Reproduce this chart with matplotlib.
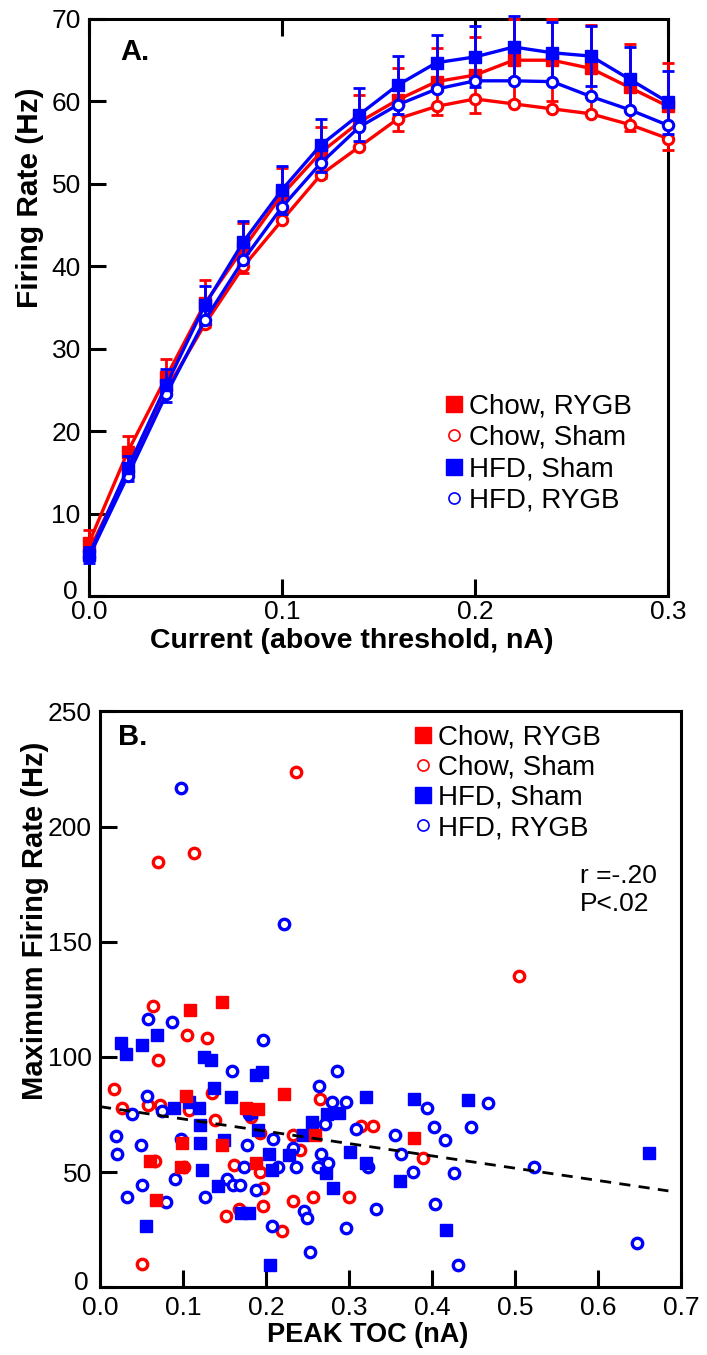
import numpy as np
import matplotlib
matplotlib.use("Agg")
import matplotlib.pyplot as plt
from matplotlib.lines import Line2D
from matplotlib.transforms import ScaledTranslation

plt.rcParams['font.family'] = ['Liberation Sans', 'DejaVu Sans']

RED = '#ff0000'
BLUE = '#0000ff'

# ---- panel A: firing rate vs current step ----
current = [0.00, 0.02, 0.04, 0.06, 0.08, 0.10, 0.12, 0.14,
           0.16, 0.18, 0.20, 0.22, 0.24, 0.26, 0.28, 0.30]
chow_rygb_rate = [6.5, 17.5, 26.6, 35.5, 42.2, 48.7, 53.8, 57.5,
                  60.2, 62.4, 63.2, 65.0, 65.0, 64.0, 61.7, 59.4]
chow_rygb_err = [1.5, 1.9, 2.2, 2.8, 3.0, 3.2, 3.1, 3.3,
                 3.8, 4.1, 4.6, 5.0, 5.0, 5.3, 5.3, 5.3]
chow_sham_rate = [5.5, 15.2, 25.0, 33.0, 40.0, 45.6, 51.1, 54.5,
                  57.9, 59.4, 60.3, 59.7, 59.1, 58.5, 57.2, 55.5]
hfd_sham_rate = [5.0, 15.5, 25.6, 35.3, 43.0, 49.3, 54.7, 58.4,
                 62.0, 64.7, 65.4, 66.6, 65.9, 65.5, 62.7, 59.9]
hfd_sham_err = [1.0, 1.5, 2.0, 2.3, 2.5, 2.9, 3.2, 3.2,
                3.5, 3.4, 3.7, 3.8, 3.7, 3.6, 3.9, 3.8]
hfd_rygb_rate = [4.8, 14.6, 24.5, 33.5, 40.8, 47.2, 52.5, 56.9,
                 59.6, 61.5, 62.5, 62.5, 62.4, 60.6, 59.0, 57.1]

# ---- panel B: max firing rate vs peak TOC ----
chow_rygb_toc = [0.109, 0.147, 0.104, 0.222, 0.176, 0.190, 0.099, 0.147,
                 0.060, 0.097, 0.188, 0.068, 0.259, 0.378]
chow_rygb_max = [120.2, 123.8, 83.0, 83.7, 77.7, 77.5, 62.5, 61.8,
                 54.6, 52.4, 53.9, 38.0, 66.1, 65.0]

chow_sham_toc = [0.236, 0.0695, 0.113, 0.505, 0.064, 0.105, 0.129, 0.070,
                 0.017, 0.026, 0.058, 0.072, 0.107, 0.135, 0.139, 0.182,
                 0.193, 0.233, 0.265, 0.315, 0.329, 0.066, 0.101, 0.162,
                 0.193, 0.196, 0.241, 0.233, 0.257, 0.300, 0.168, 0.152,
                 0.196, 0.219, 0.050, 0.389]
chow_sham_max = [223.7, 184.6, 188.6, 135.0, 121.9, 109.4, 108.4, 98.8,
                 85.9, 78.0, 79.1, 79.1, 77.0, 84.4, 72.6, 73.8,
                 67.1, 66.1, 81.7, 70.0, 70.0, 55.0, 52.4, 52.9,
                 49.9, 43.1, 59.4, 37.6, 39.2, 39.2, 34.1, 31.1,
                 35.2, 24.6, 9.9, 56.3]

hfd_sham_toc = [0.025, 0.031, 0.050, 0.069, 0.125, 0.134, 0.188, 0.195,
                0.137, 0.158, 0.089, 0.107, 0.119, 0.121, 0.182, 0.256,
                0.273, 0.288, 0.321, 0.378, 0.121, 0.149, 0.190, 0.245,
                0.204, 0.207, 0.228, 0.301, 0.321, 0.272, 0.123, 0.142,
                0.281, 0.362, 0.180, 0.170, 0.055, 0.205, 0.443, 0.662,
                0.417]
hfd_sham_max = [106.0, 101.4, 105.3, 109.4, 100.0, 98.6, 92.1, 93.5,
                86.3, 82.7, 77.7, 80.5, 77.7, 70.5, 76.2, 71.9,
                75.2, 75.5, 82.7, 81.6, 62.8, 64.0, 68.3, 66.1,
                57.9, 51.0, 57.5, 58.9, 53.9, 49.6, 50.7, 43.8,
                43.1, 46.0, 32.3, 32.3, 26.5, 9.5, 81.2, 58.3,
                25.0]

hfd_rygb_toc = [0.097, 0.222, 0.058, 0.087, 0.197, 0.159, 0.286, 0.264,
                0.057, 0.038, 0.075, 0.280, 0.296, 0.271, 0.308, 0.019,
                0.021, 0.049, 0.098, 0.177, 0.208, 0.232, 0.236, 0.214,
                0.174, 0.266, 0.275, 0.263, 0.323, 0.090, 0.051, 0.153,
                0.160, 0.169, 0.188, 0.032, 0.079, 0.127, 0.246, 0.249,
                0.207, 0.297, 0.332, 0.253, 0.355, 0.363, 0.377, 0.180,
                0.394, 0.468, 0.402, 0.447, 0.416, 0.427, 0.523, 0.404,
                0.432, 0.647]
hfd_rygb_max = [216.7, 157.9, 116.6, 115.1, 107.2, 93.8, 93.8, 87.3,
                83.1, 75.1, 76.7, 80.5, 80.5, 70.9, 68.6, 65.7,
                57.8, 61.8, 64.4, 61.8, 64.4, 60.4, 52.4, 52.4,
                52.4, 57.9, 53.9, 52.4, 52.4, 47.1, 44.5, 47.1,
                44.5, 44.5, 42.4, 39.2, 36.9, 39.2, 33.0, 30.1,
                26.8, 25.6, 34.0, 15.3, 65.9, 57.9, 49.9, 75.0,
                77.6, 80.2, 69.6, 69.6, 64.1, 49.6, 52.2, 36.3,
                9.5, 19.0]

# fitted line as drawn
fit_intercept = 78.4
fit_slope = -53.4
fit_x = [0.0, 0.685]

labels = ['Chow, RYGB', 'Chow, Sham', 'HFD, Sham', 'HFD, RYGB']

fig = plt.figure(figsize=(7.07, 13.55), dpi=100)


def style_axes(ax, top_ticks, xpad):
    for s in ax.spines.values():
        s.set_linewidth(2.2)
    ax.tick_params(direction='in', length=12, width=2.2, labelsize=19,
                   top=top_ticks, right=False, pad=6)
    ax.tick_params(axis='x', pad=xpad)


def nudge_zero_label(ax):
    # lift the "0" y tick label a bit so it clears "0.0"
    lab = ax.yaxis.get_major_ticks()[0].label1
    lab.set_transform(lab.get_transform() +
                      ScaledTranslation(-2 / 72, 5 / 72, fig.dpi_scale_trans))


def legend_handles():
    return [
        Line2D([], [], ls='none', marker='s', ms=11, mfc=RED, mec=RED),
        Line2D([], [], ls='none', marker='o', ms=8, mfc='white', mec=RED, mew=1.2),
        Line2D([], [], ls='none', marker='s', ms=11, mfc=BLUE, mec=BLUE),
        Line2D([], [], ls='none', marker='o', ms=8, mfc='white', mec=BLUE, mew=1.2),
    ]


# ---------------- panel A ----------------
axA = fig.add_axes([0.126, 0.560, 0.819, 0.426])
lw = 2.4
axA.errorbar(current, chow_rygb_rate, yerr=chow_rygb_err, color=RED, lw=lw,
             marker='s', ms=8.5, mfc=RED, mec=RED, capsize=4, capthick=2,
             elinewidth=2, clip_on=False, zorder=3)
axA.plot(current, chow_sham_rate, color=RED, lw=lw, marker='o', ms=7.5,
         mfc='white', mec=RED, mew=2.2, clip_on=False, zorder=3)
axA.errorbar(current, hfd_sham_rate, yerr=hfd_sham_err, color=BLUE, lw=lw,
             marker='s', ms=8.5, mfc=BLUE, mec=BLUE, capsize=4, capthick=2,
             elinewidth=2, clip_on=False, zorder=4)
axA.plot(current, hfd_rygb_rate, color=BLUE, lw=lw, marker='o', ms=7.5,
         mfc='white', mec=BLUE, mew=2.2, clip_on=False, zorder=4)

axA.set_xlim(0, 0.3)
axA.set_ylim(0, 70)
axA.set_xticks([0.0, 0.1, 0.2, 0.3])
axA.set_xticklabels(['0.0', '0.1', '0.2', '0.3'])
axA.set_yticks(range(0, 71, 10))
style_axes(axA, True, 3)
nudge_zero_label(axA)
axA.set_xlabel('Current (above threshold, nA)', fontsize=20.5,
               fontweight='bold', va='center')
axA.xaxis.set_label_coords(0.454, -0.077)
axA.set_ylabel('Firing Rate (Hz)', fontsize=21.5, fontweight='bold', va='center')
axA.yaxis.set_label_coords(-0.102, 0.69)
axA.text(0.054, 0.943, 'A.', transform=axA.transAxes, fontsize=21,
         fontweight='bold', va='center', ha='left')

axA.legend(legend_handles(), labels, loc='center left',
           bbox_to_anchor=(0.615, 0.247), frameon=False, fontsize=20,
           handlelength=0.6, handletextpad=0.25, labelspacing=0.2,
           borderpad=0, borderaxespad=0)

# ---------------- panel B ----------------
axB = fig.add_axes([0.1415, 0.050, 0.8215, 0.425])
axB.plot(chow_sham_toc, chow_sham_max, ls='none', marker='o', ms=7.5,
         mfc='white', mec=RED, mew=2.4, zorder=3)
axB.plot(hfd_rygb_toc, hfd_rygb_max, ls='none', marker='o', ms=7.5,
         mfc='white', mec=BLUE, mew=2.4, zorder=3)
axB.plot(hfd_sham_toc, hfd_sham_max, ls='none', marker='s', ms=8.5,
         mfc=BLUE, mec=BLUE, zorder=3)
axB.plot(chow_rygb_toc, chow_rygb_max, ls='none', marker='s', ms=8.5,
         mfc=RED, mec=RED, zorder=3)
fit_y = [fit_intercept + fit_slope * v for v in fit_x]
axB.plot(fit_x, fit_y, color='black', lw=2, ls=(0, (4, 3)), zorder=5)

axB.set_xlim(0, 0.7)
axB.set_ylim(0, 250)
axB.set_xticks(np.arange(0, 0.71, 0.1))
axB.set_xticklabels(['0.0', '0.1', '0.2', '0.3', '0.4', '0.5', '0.6', '0.7'])
axB.set_yticks(range(0, 251, 50))
style_axes(axB, False, 6)
nudge_zero_label(axB)
axB.set_xlabel('PEAK TOC (nA)', fontsize=19.5, fontweight='bold', va='center')
axB.xaxis.set_label_coords(0.461, -0.083)
axB.set_ylabel('Maximum Firing Rate (Hz)', fontsize=21, fontweight='bold',
               va='center')
axB.yaxis.set_label_coords(-0.112, 0.637)
axB.text(0.031, 0.955, 'B.', transform=axB.transAxes, fontsize=21,
         fontweight='bold', va='center', ha='left')
axB.text(0.826, 0.69, 'r =-.20\nP<.02', transform=axB.transAxes, fontsize=19,
         va='center', ha='left', linespacing=1.2)

axB.legend(legend_handles(), labels, loc='center left',
           bbox_to_anchor=(0.542, 0.876), frameon=False, fontsize=20,
           handlelength=0.6, handletextpad=0.25, labelspacing=0.15,
           borderpad=0, borderaxespad=0)

fig.savefig('out.png', dpi=100)
